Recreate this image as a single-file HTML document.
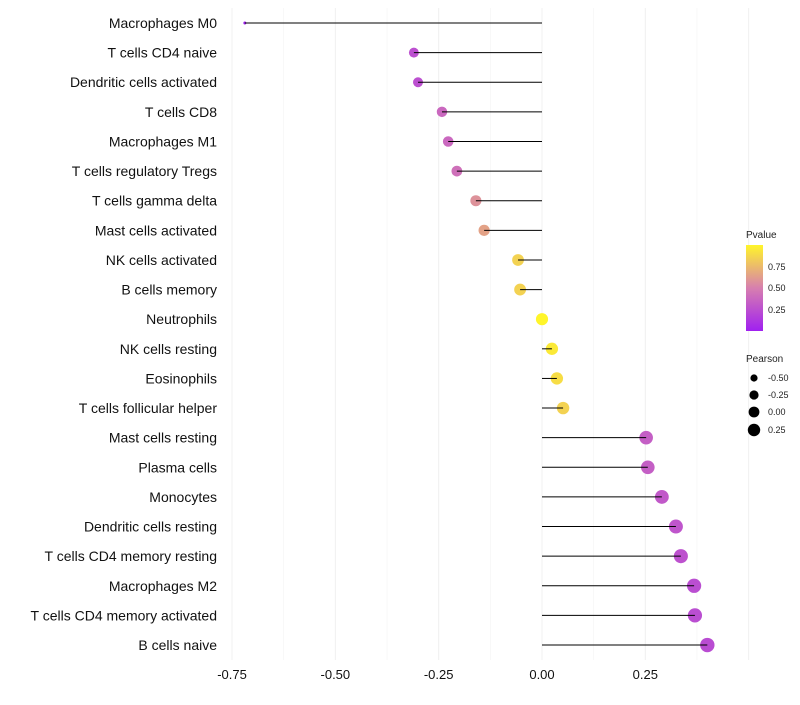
<!DOCTYPE html>
<html><head><meta charset="utf-8"><style>
body{margin:0;background:#fff;font-family:"Liberation Sans",sans-serif}
</style></head><body>
<svg id="c" width="800" height="700" xmlns="http://www.w3.org/2000/svg">
<defs><linearGradient id="pg" x1="0" y1="1" x2="0" y2="0">
<stop offset="0" stop-color="#A020F0"/><stop offset="0.5" stop-color="#D77FAF"/><stop offset="1" stop-color="#FFF52A"/></linearGradient></defs>
<g id="grid"></g><g id="marks"></g><g id="axes"></g>
<g font-size="9" fill="#222">
<text x="746" y="238" font-size="10">Pvalue</text>
<rect x="746" y="245" width="17" height="86" fill="url(#pg)"/>
<text x="768" y="270">0.75</text><text x="768" y="291">0.50</text><text x="768" y="313">0.25</text>
</g>
<g font-size="9" fill="#222">
<text x="746" y="362" font-size="10">Pearson</text>
<circle cx="754" cy="378" r="3.6" fill="#000"/><text x="768" y="381">-0.50</text>
<circle cx="754" cy="395" r="4.6" fill="#000"/><text x="768" y="398">-0.25</text>
<circle cx="754" cy="412" r="5.4" fill="#000"/><text x="768" y="415">0.00</text>
<circle cx="754" cy="430" r="6.2" fill="#000"/><text x="768" y="433">0.25</text>
</g>
</svg>
<script>
const categories=["Macrophages M0","T cells CD4 naive","Dendritic cells activated","T cells CD8","Macrophages M1","T cells regulatory  Tregs","T cells gamma delta","Mast cells activated","NK cells activated","B cells memory","Neutrophils","NK cells resting","Eosinophils","T cells follicular helper","Mast cells resting","Plasma cells","Monocytes","Dendritic cells resting","T cells CD4 memory resting","Macrophages M2","T cells CD4 memory activated","B cells naive"];
const pearson=[-0.719,-0.31,-0.30,-0.242,-0.227,-0.206,-0.16,-0.14,-0.058,-0.053,0,0.024,0.036,0.051,0.252,0.256,0.29,0.324,0.336,0.368,0.370,0.40];
const pvalue=[0.0,0.25,0.25,0.38,0.38,0.42,0.58,0.65,0.85,0.85,1.0,0.95,0.9,0.85,0.33,0.33,0.3,0.28,0.26,0.24,0.24,0.23];
const xTicks=[-0.75,-0.5,-0.25,0,0.25];
const xTickLabels=["-0.75","-0.50","-0.25","0.00","0.25"];
const NS="http://www.w3.org/2000/svg";
const X=v=>542+v*413.3, Y=i=>23+i*29.62;
function mk(t,a,p){const e=document.createElementNS(NS,t);for(const k in a)e.setAttribute(k,a[k]);p.appendChild(e);return e;}
function lerp(a,b,t){return a.map((x,i)=>Math.round(x+(b[i]-x)*t));}
function col(p){const c0=[160,32,240],c1=[215,127,175],c2=[255,245,42];const c=p<0.5?lerp(c0,c1,p/0.5):lerp(c1,c2,(p-0.5)/0.5);return `rgb(${c})`;}
const mn=Math.min(...pearson),mx=Math.max(...pearson);
const grid=document.getElementById('grid'),marks=document.getElementById('marks'),axes=document.getElementById('axes');
for(let v=-0.75;v<=0.5;v+=0.125){const l=mk('line',{x1:X(v),x2:X(v),y1:8,y2:660,stroke:'#f0f0f0','stroke-width':Math.abs((v*4)%1)<1e-6?1:0.5},grid);

}
xTicks.forEach((v,i)=>{const t=mk('text',{x:X(v),y:679,'text-anchor':'middle','font-size':13,fill:'#111'},axes);t.textContent=xTickLabels[i];

});
categories.forEach((c,i)=>{
const t=mk('text',{x:217,y:Y(i)+5,'text-anchor':'end','font-size':14,fill:'#111'},axes);t.textContent=c;


const g=mk('g',{},marks);


const r=1.5+5.7*Math.sqrt((pearson[i]-mn)/(mx-mn));
mk('circle',{cx:X(pearson[i]),cy:Y(i),r:r,fill:col(pvalue[i])},g);
mk('line',{x1:X(0),x2:X(pearson[i]),y1:Y(i),y2:Y(i),stroke:'#000','stroke-width':1},g);
});
</script>
</body></html>
